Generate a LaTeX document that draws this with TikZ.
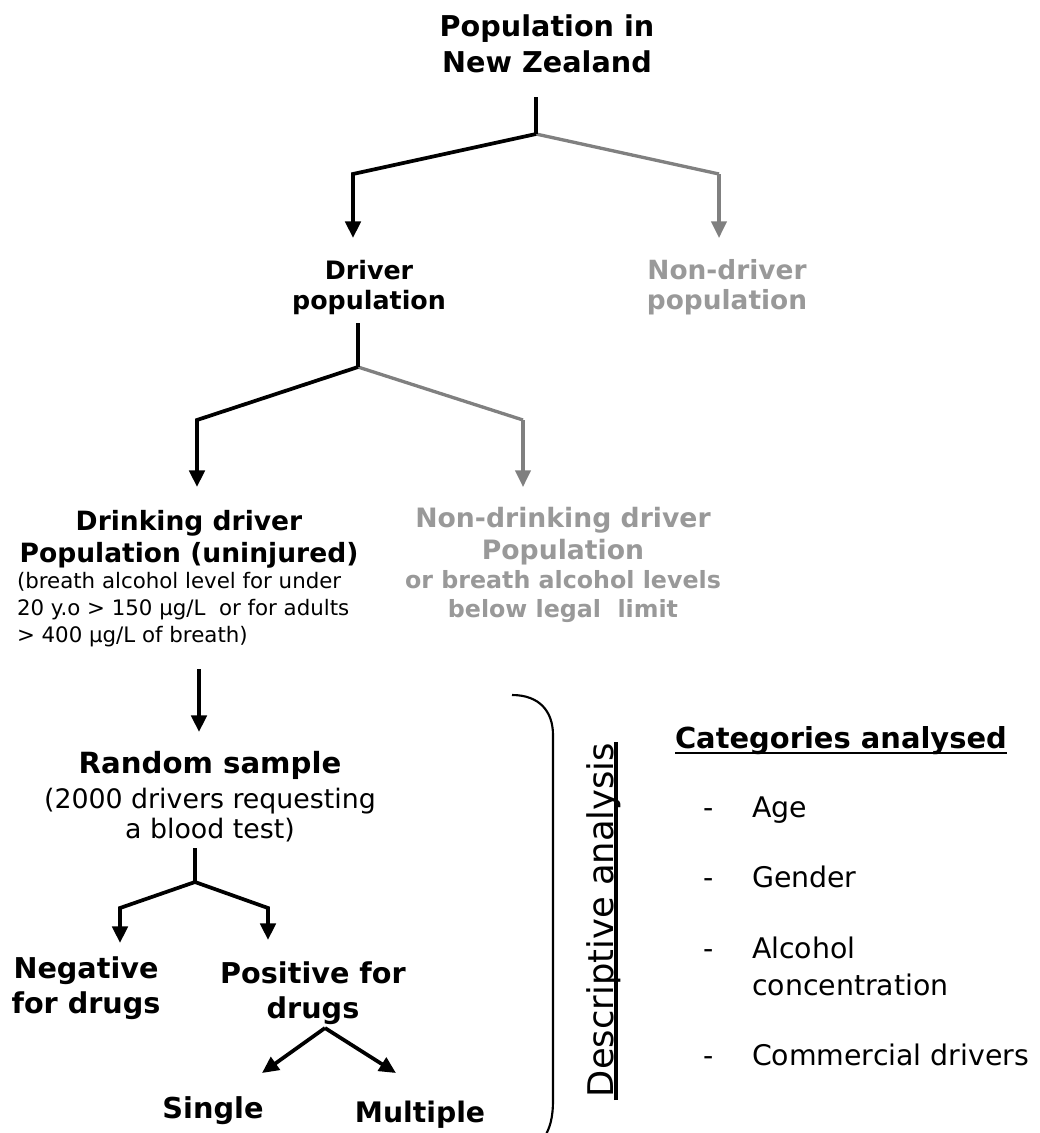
\documentclass[tikz,border=0pt]{standalone}
\usepackage{fontspec}
\setmainfont{DejaVu Sans}
\usetikzlibrary{arrows.meta,calc}
\definecolor{greytxt}{RGB}{153,153,153}
\definecolor{greyln}{RGB}{128,128,128}
\newcommand{\fsz}[2]{\fontsize{#1}{#2}\selectfont}
\begin{document}
\begin{tikzpicture}[x=0.75pt,y=-0.75pt,
  lbl/.style={inner sep=0pt, outer sep=0pt, anchor=base, align=center},
  lbll/.style={inner sep=0pt, outer sep=0pt, anchor=base west, align=left},
  tree/.style={line width=2.8pt, line join=miter},
  treeg/.style={tree, line width=2.5pt, draw=greyln},
  arr/.style={tree, -{Triangle[length=12.5pt,width=11.5pt]}},
  arrg/.style={treeg, -{Triangle[length=12.5pt,width=11.5pt]}, greyln},
  brace/.style={line width=1.6pt},
  uline/.style={line width=2.2pt}]
\useasboundingbox (0,0) rectangle (1040,1133);

% ---- texts (base anchor = baseline of the last line) ----
\node[lbl, font=\bfseries\fsz{21.5pt}{27pt}] (title) at (547,72) {Population in\\New Zealand};
\node[lbl, font=\bfseries\fsz{19pt}{22.5pt}] (driver) at (369,309) {Driver\\population};
\node[lbl, font=\bfseries\fsz{19.8pt}{22.5pt}, text=greytxt] (nondriver) at (727,309) {Non-driver\\population};
\node[lbl, font=\bfseries\fsz{19.9pt}{24pt}] (drinking) at (189,562) {Drinking driver\\Population (uninjured)};
\node[lbll, font=\fsz{16pt}{20.25pt}] (drinknote) at (17,642) {(breath alcohol level for under\\20 y.o > 150 µg/L\ \ or for adults\\> 400 µg/L of breath)};
\node[lbl, font=\bfseries\fsz{20pt}{24pt}, text=greytxt] (nondrinking) at (563,617)
  {Non-drinking driver\\Population\\[-2.25pt]{\fsz{17.8pt}{21.75pt}or breath alcohol levels}\\[-2.25pt]{\fsz{17.8pt}{21.75pt}below legal\ \ limit}};
\node[lbl, font=\bfseries\fsz{21.9pt}{22.5pt}] (random) at (210,838)
  {Random sample\\[3.75pt]{\mdseries\fsz{20.1pt}{22.5pt}(2000 drivers requesting}\\{\mdseries\fsz{20.1pt}{22.5pt}a blood test)}};
\node[lbl, font=\bfseries\fsz{21.5pt}{26.25pt}] (negative) at (86,1013) {Negative\\for drugs};
\node[lbl, font=\bfseries\fsz{21.5pt}{26.25pt}] (positive) at (313,1018) {Positive for\\drugs};
\node[lbl, font=\bfseries\fsz{21.6pt}{26pt}] (single) at (213,1118) {Single};
\node[lbl, font=\bfseries\fsz{21.2pt}{26pt}] (multiple) at (420,1122) {Multiple};

\node[lbll, font=\bfseries\fsz{21.7pt}{26pt}] (cat) at (675,748) {Categories analysed};
\draw[uline] ($(cat.base west)+(0,5)$) -- ($(cat.base east)+(0,5)$);

\node[lbll, font=\fsz{21.3pt}{27.75pt}] (d1) at (703,817) {-};
\node[lbll, font=\fsz{21.3pt}{27.75pt}] (age) at (752,817) {Age};
\node[lbll, font=\fsz{21.3pt}{27.75pt}] (d2) at (703,887) {-};
\node[lbll, font=\fsz{21.3pt}{27.75pt}] (gender) at (752,887) {Gender};
\node[lbll, font=\fsz{21.3pt}{27.75pt}] (d3) at (703,958) {-};
\node[lbll, font=\fsz{21.3pt}{27.75pt}] (alcohol) at (752,995) {Alcohol\\concentration};
\node[lbll, font=\fsz{21.3pt}{27.75pt}] (d4) at (703,1065) {-};
\node[lbll, font=\fsz{21.3pt}{27.75pt}] (commercial) at (752,1065) {Commercial drivers};

\node[lbll, font=\fsz{26.5pt}{30pt}, rotate=90] (desc) at (613,1097) {Descriptive analysis};
\draw[uline, line width=2.4pt] ($(desc.base west)+(3,3)$) -- ($(desc.base east)+(3,-1)$);

% ---- connector points ----
\coordinate (s1) at (536,97);  \coordinate (j1) at (536,134);
\coordinate (l1) at (353,174); \coordinate (l1e) at (353,238);
\coordinate (r1) at (719,174); \coordinate (r1e) at (719,238);
\coordinate (s2) at (358,323); \coordinate (j2) at (358,367);
\coordinate (l2) at (197,420); \coordinate (l2e) at (197,487);
\coordinate (r2) at (523,420); \coordinate (r2e) at (523,487);
\coordinate (s3) at (199,669); \coordinate (s3e) at (199,732);
\coordinate (s4) at (195,848); \coordinate (j4) at (195,882);
\coordinate (l4) at (120,908); \coordinate (l4e) at (120,943);
\coordinate (r4) at (268,908); \coordinate (r4e) at (268,940);
\coordinate (j5) at (325,1028);
\coordinate (l5e) at (262,1073); \coordinate (r5e) at (396,1073);

% ---- connectors ----
\draw[treeg] (j1) -- (r1);
\draw[arrg] (r1) -- (r1e);
\draw[tree] (s1) -- (j1);
\draw[arr] (j1) -- (l1) -- (l1e);

\draw[treeg] (j2) -- (r2);
\draw[arrg] (r2) -- (r2e);
\draw[tree] (s2) -- (j2);
\draw[arr] (j2) -- (l2) -- (l2e);

\draw[arr] (s3) -- (s3e);

\draw[tree] (s4) -- (j4);
\draw[arr] (j4) -- (l4) -- (l4e);
\draw[arr] (j4) -- (r4) -- (r4e);

\draw[arr] (j5) -- (l5e);
\draw[arr] (j5) -- (r5e);

% ---- bracket ----
\coordinate (b0) at (512,695);
\coordinate (b1) at (553,735);
\coordinate (b2) at (553,1100);
\coordinate (b3) at (544,1138);
\draw[brace] (b0) .. controls (540,695) and (553,712) .. (b1) -- (b2) .. controls (553,1118) and (550,1128) .. (b3);
\end{tikzpicture}
\end{document}
